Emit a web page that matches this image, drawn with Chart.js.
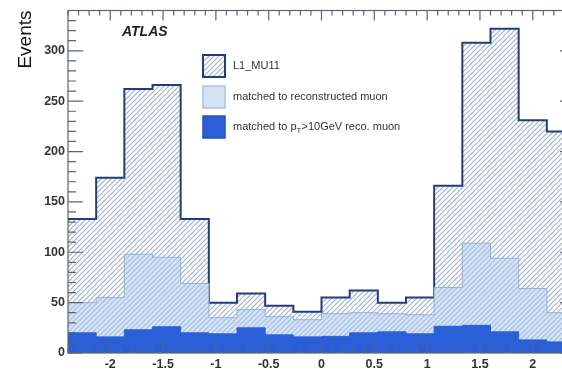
<!DOCTYPE html>
<html>
<head>
<meta charset="utf-8">
<script src="https://cdn.jsdelivr.net/npm/chart.js@4.4.1/dist/chart.umd.min.js"></script>
<style>
  html, body { margin: 0; padding: 0; background: #fff; width: 562px; height: 390px; overflow: hidden; }
  #wrap { position: relative; width: 600px; height: 390px; }
</style>
</head>
<body>
<div id="wrap"><canvas id="c" width="600" height="390"></canvas></div>
<script>
// Level-1 muon trigger L1_MU11: events per pseudorapidity bin
const ETA_MIN = -2.4;
const ETA_MAX = 2.4;
const N_BINS = 18;
const binEdges = Array.from({ length: N_BINS + 1 }, (_, i) => ETA_MIN + i * (ETA_MAX - ETA_MIN) / N_BINS);

const l1Mu11      = [133, 174, 262, 266, 133, 50, 59, 47, 41, 55, 62, 50, 55, 166, 308, 322, 231, 220];
const matchedReco = [50, 55, 98, 95, 69, 35, 43, 36, 33, 39, 40, 39, 38, 65, 109, 94, 64, 40];
const matchedPt10 = [20, 16, 23, 26, 20, 19, 25, 18, 16, 16.5, 20, 21, 19, 26.5, 27.5, 21, 13, 11];

const seriesLabels = ['L1_MU11', 'matched to reconstructed muon', 'matched to p_T>10GeV reco. muon'];

const xTicks = [-2, -1.5, -1, -0.5, 0, 0.5, 1, 1.5, 2];
const yTicks = [0, 50, 100, 150, 200, 250, 300];
const Y_MAX = 340;

const FONT = '"Liberation Sans", Arial, sans-serif';

const canvas = document.getElementById('c');
const mainCtx = canvas.getContext('2d');

// diagonal "///" hatch tile
function hatch(bg, line, period, width) {
  const t = document.createElement('canvas');
  t.width = period; t.height = period;
  const g = t.getContext('2d');
  if (bg) { g.fillStyle = bg; g.fillRect(0, 0, period, period); }
  g.strokeStyle = line;
  g.lineWidth = width;
  g.beginPath();
  for (const off of [-period, 0, period]) {
    g.moveTo(off - 1, period + 1);
    g.lineTo(off + period + 1, -1);
  }
  g.stroke();
  return mainCtx.createPattern(t, 'repeat');
}

const hatchL1 = hatch('#ffffff', '#a3b0c8', 5, 1.2);
const hatchReco = hatch('#d4e4f7', '#a7bfe0', 5, 1.2);
const solidPt = '#2b5fd8';

// histogram outline as step points: one per bin low edge plus the last high edge
function stepPoints(values) {
  const pts = values.map((v, i) => ({ x: binEdges[i], y: v }));
  pts.push({ x: binEdges[N_BINS], y: values[N_BINS - 1] });
  return pts;
}

const legendStyle = [
  { fill: hatchL1, stroke: '#243c7a', lw: 2 },
  { fill: '#d2e3f6', stroke: '#a9c3e3', lw: 1.5 },
  { fill: solidPt, stroke: '#2451b8', lw: 1.5 }
];

const framePlugin = {
  id: 'frame',
  afterDatasetsDraw(chart) {
    const { ctx, chartArea: a, scales: { x, y } } = chart;
    ctx.save();
    ctx.strokeStyle = '#5d6472';
    ctx.lineWidth = 1.2;
    ctx.strokeRect(a.left, a.top, a.right - a.left, a.bottom - a.top);
    ctx.beginPath();
    for (let k = Math.round(ETA_MIN * 10); k <= Math.round(ETA_MAX * 10); k++) {
      const px = x.getPixelForValue(k / 10);
      const len = (k % 5 === 0) ? 10 : 5;
      ctx.moveTo(px, a.bottom); ctx.lineTo(px, a.bottom - len);
      ctx.moveTo(px, a.top); ctx.lineTo(px, a.top + len);
    }
    for (let v = 0; v <= Y_MAX; v += 10) {
      const py = y.getPixelForValue(v);
      const len = (v % 50 === 0) ? 15 : 8;
      ctx.moveTo(a.left, py); ctx.lineTo(a.left + len, py);
      ctx.moveTo(a.right, py); ctx.lineTo(a.right - len, py);
    }
    ctx.stroke();
    ctx.restore();
  },
  afterDraw(chart) {
    const ctx = chart.ctx;
    ctx.save();
    // experiment tag
    ctx.font = 'italic bold 14px ' + FONT;
    ctx.fillStyle = '#222';
    ctx.textBaseline = 'middle';
    ctx.textAlign = 'left';
    ctx.fillText('ATLAS', 122, 32);

    // legend
    const boxX = 203, box = 22, textX = 233;
    const rowsTop = [55, 86, 116];
    chart.data.datasets.forEach((ds, i) => {
      const st = legendStyle[i];
      const top = rowsTop[i];
      ctx.fillStyle = st.fill;
      ctx.fillRect(boxX, top, box, box);
      ctx.strokeStyle = st.stroke;
      ctx.lineWidth = st.lw;
      ctx.strokeRect(boxX, top, box, box);

      const cy = top + box / 2;
      ctx.fillStyle = '#333';
      ctx.font = '11px ' + FONT;
      ctx.textBaseline = 'middle';
      const label = ds.label;
      if (label.includes('p_T')) {
        const [pre, post] = label.split('p_T');
        let cx = textX;
        ctx.fillText(pre + 'p', cx, cy);
        cx += ctx.measureText(pre + 'p').width;
        ctx.font = '8px ' + FONT;
        ctx.fillText('T', cx, cy + 4);
        cx += ctx.measureText('T').width;
        ctx.font = '11px ' + FONT;
        ctx.fillText(post, cx, cy);
      } else {
        ctx.fillText(label, textX, cy);
      }
    });
    ctx.restore();
  }
};

const tickFont = { family: FONT, size: 12.5, weight: 'bold' };

new Chart(canvas, {
  type: 'line',
  data: {
    datasets: [
      {
        label: seriesLabels[0], data: stepPoints(l1Mu11), stepped: true, order: 3,
        borderColor: '#243c7a', borderWidth: 2, backgroundColor: hatchL1, fill: 'origin',
        pointRadius: 0
      },
      {
        label: seriesLabels[1], data: stepPoints(matchedReco), stepped: true, order: 2,
        borderColor: '#93b2dc', borderWidth: 1, backgroundColor: hatchReco, fill: 'origin',
        pointRadius: 0
      },
      {
        label: seriesLabels[2], data: stepPoints(matchedPt10), stepped: true, order: 1,
        borderColor: solidPt, borderWidth: 1, backgroundColor: solidPt, fill: 'origin',
        pointRadius: 0
      }
    ]
  },
  options: {
    responsive: false,
    animation: false,
    devicePixelRatio: 1,
    layout: { padding: { top: 7, right: 25, left: 0, bottom: 0 } },
    plugins: { legend: { display: false }, tooltip: { enabled: false } },
    scales: {
      x: {
        type: 'linear', min: ETA_MIN, max: ETA_MAX,
        grid: { display: false, drawTicks: false },
        border: { display: false },
        ticks: { font: tickFont, color: '#333', padding: 4, maxRotation: 0, autoSkip: false,
                 callback: v => String(v) },
        afterBuildTicks: s => { s.ticks = xTicks.map(v => ({ value: v })); },
        afterFit: s => { s.height = 37; }
      },
      y: {
        type: 'linear', min: 0, max: Y_MAX,
        grid: { display: false, drawTicks: false },
        border: { display: false },
        ticks: { font: tickFont, color: '#333', padding: 3, callback: v => String(v) },
        afterBuildTicks: s => { s.ticks = yTicks.map(v => ({ value: v })); },
        afterFit: s => { s.width = 68; },
        title: { display: true, text: 'Events', align: 'end', color: '#111',
                 font: { family: FONT, size: 19 }, padding: { top: 14, bottom: 0 } }
      }
    }
  },
  plugins: [framePlugin]
});
</script>
</body>
</html>
